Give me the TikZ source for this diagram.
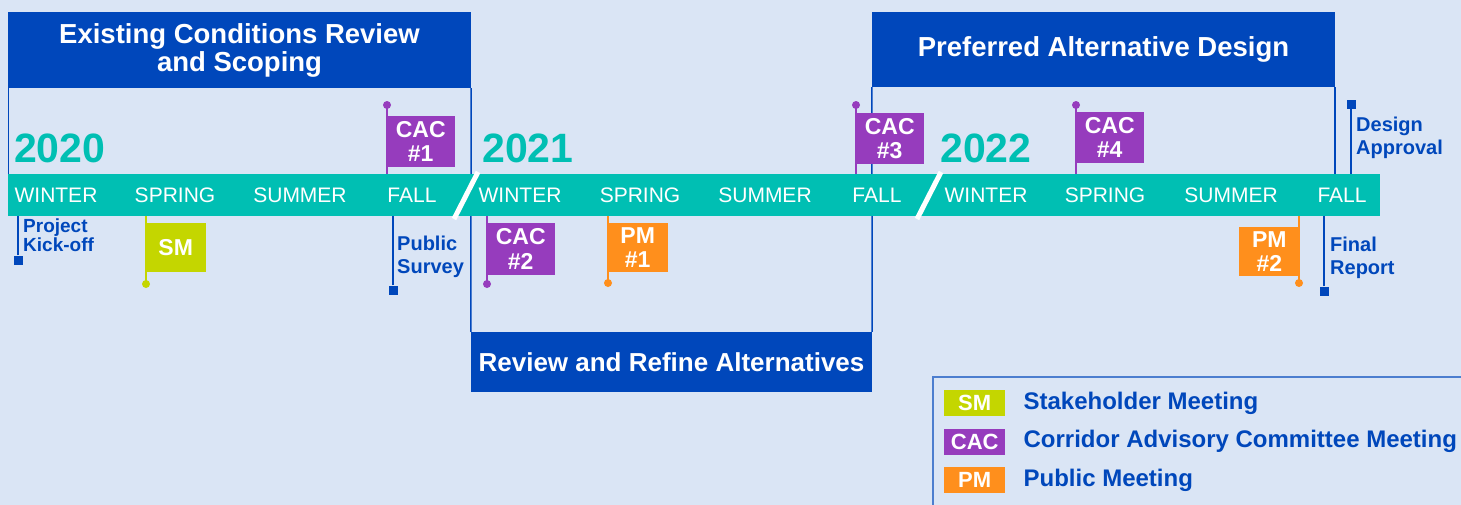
\documentclass[tikz,border=0pt]{standalone}
\usepackage{fontspec}
\setmainfont{Liberation Sans}
\usetikzlibrary{positioning}
\definecolor{bgblue}{RGB}{218,229,245}
\definecolor{navy}{RGB}{0,71,187}
\definecolor{bandteal}{RGB}{0,191,179}
\definecolor{cacpurple}{RGB}{150,60,189}
\definecolor{pmorange}{RGB}{255,143,28}
\definecolor{smlime}{RGB}{196,214,0}

\begin{document}
\begin{tikzpicture}[
  x=1pt, y=-1pt,
  node distance=12pt and 18pt,
  phase/.style={fill=navy, text=white, font=\bfseries\fontsize{27.5}{28}\selectfont,
                align=center, inner sep=0pt},
  bracket/.style={navy, line width=1.5pt},
  season/.style={text=white, font=\fontsize{21}{21}\selectfont, inner sep=0pt},
  year/.style={text=bandteal, font=\bfseries\fontsize{41}{41}\selectfont, inner sep=0pt, anchor=south west},
  flag/.style={text=white, font=\bfseries\fontsize{23}{24.5}\selectfont, align=center,
               inner sep=0pt, minimum height=51pt, anchor=north west},
  pole/.style={line width=1.8pt},
  pin/.style={circle, inner sep=0pt, minimum size=8pt},
  sq/.style={fill=navy, inner sep=0pt, minimum size=9pt},
  note/.style={text=navy, font=\bfseries\fontsize{20}{22.5}\selectfont, align=left,
               inner sep=0pt, anchor=north west},
  swatch/.style={text=white, font=\bfseries\fontsize{22}{22}\selectfont, inner sep=0pt,
                 minimum width=61pt, minimum height=26pt},
  keytext/.style={text=navy, font=\bfseries\fontsize{24}{24}\selectfont, inner sep=0pt, anchor=west}
]
  % background
  \useasboundingbox (0,0) rectangle (1461,504);
  \fill[bgblue] (-3,-3) rectangle (1464,507);

  % phases
  \node[phase, minimum width=463pt, minimum height=76pt] (ph1) at (239.5,50)
    {Existing Conditions Review\\and Scoping};
  \node[phase, minimum width=401pt, minimum height=60pt, font=\bfseries\fontsize{26}{28}\selectfont]
    (ph2) at (671.5,362) {Review and Refine Alternatives};
  \node[phase, minimum width=463pt, minimum height=75pt] (ph3) at (1103.5,49.5)
    {Preferred Alternative Design};

  % timeline band
  \node[fill=bandteal, minimum width=1372pt, minimum height=42pt, inner sep=0pt] (band) at (694,195) {};

  \draw[bracket] ([xshift=0.75pt]ph1.south west) -- ([xshift=0.75pt]ph1.south west |- band.north);
  \draw[bracket] (ph1.south east) -- (ph2.north west);
  \draw[bracket] (ph3.south west) -- (ph2.north east);
  \draw[bracket] (ph3.south east) -- (ph3.south east |- band.north);
  \node[fill=bandteal, minimum width=1372pt, minimum height=42pt, inner sep=0pt] at (band) {};

  % year breaks
  \draw[white, line width=5pt] (454,219) -- (478,172);
  \draw[white, line width=5pt] (917,219) -- (941,172);

  % years
  \node[year] (y2020) at (14,163) {2020};
  \node[year] (y2021) at (482,163) {2021};
  \node[year] (y2022) at (940,163) {2022};

  % seasons
  \foreach \sx/\sname in {56/WINTER, 175/SPRING, 300/SUMMER, 412/FALL,
                          520/WINTER, 640/SPRING, 765/SUMMER, 877/FALL,
                          986/WINTER, 1105/SPRING, 1231/SUMMER, 1342/FALL}
    \node[season] at (\sx,195.5) {\sname};

  % meetings above the band
  \node[pin, fill=cacpurple] (cac1pin) at (387,105) {};
  \draw[pole, cacpurple] (cac1pin.center) -- (cac1pin |- band.north);
  \node[flag, fill=cacpurple, minimum width=69pt] (cac1) at (386,116) {CAC\\\#1};

  \node[pin, fill=cacpurple] (cac3pin) at (856,105) {};
  \draw[pole, cacpurple] (cac3pin.center) -- (cac3pin |- band.north);
  \node[flag, fill=cacpurple, minimum width=69pt] (cac3) at (855,113) {CAC\\\#3};

  \node[pin, fill=cacpurple] (cac4pin) at (1076,105) {};
  \draw[pole, cacpurple] (cac4pin.center) -- (cac4pin |- band.north);
  \node[flag, fill=cacpurple, minimum width=69pt] (cac4) at (1075,112) {CAC\\\#4};

  % meetings below the band
  \node[pin, fill=smlime] (smpin) at (146,284) {};
  \draw[pole, smlime] (smpin.center) -- (smpin |- band.south);
  \node[flag, fill=smlime, minimum width=61pt, minimum height=49pt] (sm) at (145,223) {SM};

  \node[pin, fill=cacpurple] (cac2pin) at (487,284) {};
  \draw[pole, cacpurple] (cac2pin.center) -- (cac2pin |- band.south);
  \node[flag, fill=cacpurple, minimum width=69pt, minimum height=52pt] (cac2) at (486,223) {CAC\\\#2};

  \node[pin, fill=pmorange] (pm1pin) at (608,283) {};
  \draw[pole, pmorange] (pm1pin.center) -- (pm1pin |- band.south);
  \node[flag, fill=pmorange, minimum width=61pt, minimum height=49pt] (pm1) at (607,223) {PM\\\#1};

  \node[pin, fill=pmorange] (pm2pin) at (1299,283) {};
  \draw[pole, pmorange] (pm2pin.center) -- (pm2pin |- band.south);
  \node[flag, fill=pmorange, minimum width=61pt, minimum height=49pt, anchor=north east] (pm2) at (1300,227) {PM\\\#2};

  % milestones
  \node[sq] (kickend) at (18,260) {};
  \draw[pole, navy] (kickend) -- (kickend |- band.south);
  \node[note, font=\bfseries\fontsize{19}{19}\selectfont] (kick) at (23,219) {Project\\Kick-off};

  \node[sq] (surveyend) at (393,290) {};
  \draw[pole, navy] (surveyend) -- (surveyend |- band.south);
  \node[note] (survey) at (397,236) {Public\\Survey};

  \node[sq] (reportend) at (1324,291) {};
  \draw[pole, navy] (reportend) -- (reportend |- band.south);
  \node[note] (report) at (1330,237) {Final\\Report};

  \node[sq] (approvalend) at (1351,104) {};
  \draw[pole, navy] (approvalend) -- (approvalend |- band.north);
  \node[note] (approval) at (1356,117) {Design\\Approval};

  % legend
  \draw[navy!70, line width=1.2pt] (933,510) -- (933,377) -- (1470,377);
  \node[swatch, fill=smlime, anchor=north west] (keysm) at (944,390) {SM};
  \node[swatch, fill=cacpurple, below=of keysm] (keycac) {CAC};
  \node[swatch, fill=pmorange, below=of keycac] (keypm) {PM};
  \node[keytext, right=of keysm] (keysmtext) {Stakeholder Meeting};
  \node[keytext, right=of keycac] (keycactext) {Corridor Advisory Committee Meeting};
  \node[keytext, right=of keypm] (keypmtext) {Public Meeting};
\end{tikzpicture}
\end{document}
